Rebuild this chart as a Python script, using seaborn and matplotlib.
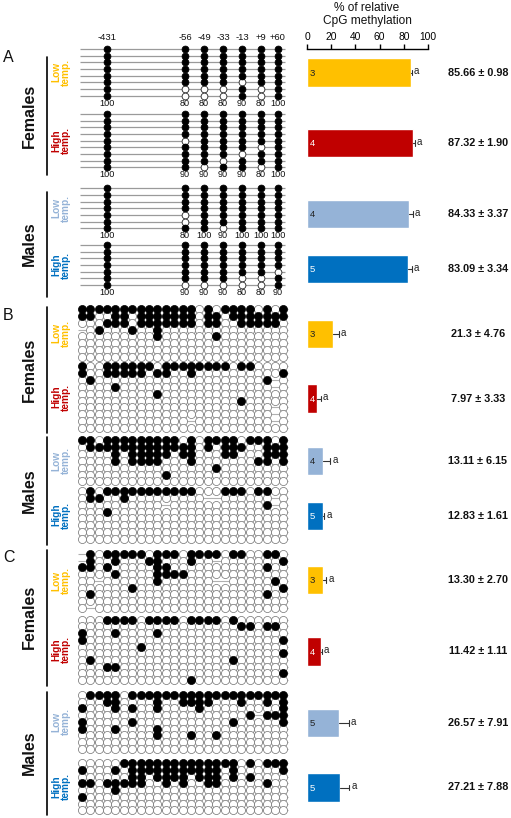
import matplotlib
matplotlib.use("Agg")
import matplotlib.pyplot as plt
import numpy as np
import pandas as pd
import seaborn as sns

sns.set_style("white")
plt.rcParams["font.family"] = ["Liberation Sans", "DejaVu Sans"]
plt.rcParams["text.color"] = "#111111"

# ------------------------------------------------------------------ data
sexes = ["Females", "Males"]
temps = ["Low\ntemp.", "High\ntemp.", "Low\ntemp.", "High\ntemp."]
group_colors = ["#FFC000", "#C00000", "#95B3D7", "#0070C0"]
number_colors = ["#222222", "#ffffff", "#222222", "#ffffff"]

# Panel A: 7 CpG sites, '1' = methylated, '0' = unmethylated
cpg_A = ["-431", "-56", "-49", "-33", "-13", "+9", "+60"]
A_fem_low = ["1111111", "1111111", "1111111", "1111111", "1111111",
             "1111011", "1000101", "1000101"]
A_fem_high = ["1111111", "1111111", "1111111", "1111111", "1011111",
              "1111101", "1111011", "1110111", "1101101"]
A_male_low = ["1111111", "1111111", "1111111", "1111111", "1011111",
              "1011111", "1110111"]
A_male_high = ["1111111", "1111111", "1111111", "1111111", "1111110",
               "1111001", "1000001"]
A_pct_fem_low = ["100", "80", "80", "80", "90", "80", "100"]
A_pct_fem_high = ["100", "90", "90", "90", "90", "80", "100"]
A_pct_male_low = ["100", "80", "100", "90", "100", "100", "100"]
A_pct_male_high = ["100", "90", "90", "90", "80", "80", "90"]

# Panel B: 25 CpG sites ('-' = not determined)
B_fem_low = ["1111111111111101011110101",
             "1100110111111101101111111",
             "0001110111111101100111110",
             "-010001001000000000000000",
             "0000000001000000100000000",
             "0000000000000000000000000",
             "0000000000000000000000000",
             "0000000000000000000000000"]
B_fem_high = ["1001111110111111110110000",
              "1001111101100100000000001",
              "01000000000000000000001-0",
              "00001000000000000000000-0",
              "0000000001000000000000000",
              "0000000000000000000100000",
              "00000000000000000000000-0",
              "00000000000000000000000-0",
              "0000000000000-000000000-0",
              "0000000000000000000000000"]
B_male_low = ["1101111111110101111011101",
              "0111111111111101011100111",
              "0000101111101100011000111",
              "0000101111000100000001101",
              "0000000000000000100000000",
              "0000000000100000000000000",
              "0000000000000000000000000"]
B_male_high = ["0101111111111100011101100",
               "011001000000000--000000-0",
               "0000000000-000000000001-0",
               "0001000000000000000000000",
               "0000000000000000000000000",
               "0000000000000000000000000",
               "0000000000000000000000000",
               "0000000000000000000000000"]

# Panel C: 25 CpG sites
C_fem_low = ["-101111101110111101100110",
             "-100100011000100-00000001",
             "1101000001100000000000100",
             "0000100001111000000000000",
             "00-0000001000000--0000010",
             "0000001000000000000000001",
             "0100000000000000000000100",
             "0000000000000000000000000",
             "0-00000000000000000000000"]
C_fem_high = ["0001111011110111101000000",
              "0000000000000000000110110",
              "1000100001000000000000000",
              "1000000000000000000000001",
              "0000000100000000000000000",
              "0000000000000000000000001",
              "0100000000000000001000000",
              "0001100000000000000000000",
              "0000000000000000000000001",
              "0000000000000100000000000"]
C_male_low = ["0111101111111111111111111",
              "0001100001001111000100101",
              "1000101001000010000000001",
              "000000000000000000001-111",
              "1000001000000000001000001",
              "1000100001000000000000000",
              "0000000001000100100000000",
              "0000000000000000000000000",
              "0000000000000000000000000"]
C_male_high = ["0000011111111111111010111",
               "1000101111111111101000001",
               "0000001101111011101010000",
               "1101111100101001100000100",
               "0000100000000000000000000",
               "1000000000000000000000000",
               "0000000000000000000000000",
               "0000000000000000000000000"]

# Bars: mean % relative CpG methylation and s.e.m., n per group
A_mean = ["85.66", "87.32", "84.33", "83.09"]
A_sem = ["0.98", "1.90", "3.37", "3.34"]
A_n = ["3", "4", "4", "5"]
B_mean = ["21.3", "7.97", "13.11", "12.83"]
B_sem = ["4.76", "3.33", "6.15", "1.61"]
B_n = ["3", "4", "4", "5"]
C_mean = ["13.30", "11.42", "26.57", "27.21"]
C_sem = ["2.70", "1.11", "7.91", "7.88"]
C_n = ["3", "4", "5", "5"]
sig_letters = ["a", "a", "a", "a"]
axis_ticks = [0, 20, 40, 60, 80, 100]

# ------------------------------------------------------------------ layout
W, H = 511, 818
fig = plt.figure(figsize=(W / 100, H / 100), dpi=100)
ax = fig.add_axes([0, 0, 1, 1])

A_col_x = [107, 185, 204, 223, 242, 261, 278]
BC_col_x = [81.7 + 8.4 * k for k in range(25)]

panels = [
    dict(letter="A", letter_y=57, groups=[A_fem_low, A_fem_high, A_male_low, A_male_high],
         y0=[49, 114, 188.3, 245], dy=6.67, xs=A_col_x, small=True,
         sexbar=[(57, 175), (192, 297)], sexy=[116, 244],
         bar_y=[72.5, 143, 214, 269], mean=A_mean, sem=A_sem, n=A_n),
    dict(letter="B", letter_y=316, groups=[B_fem_low, B_fem_high, B_male_low, B_male_high],
         y0=[309, 366.3, 440.3, 491], dy=6.86, xs=BC_col_x, small=False,
         sexbar=[(307, 433), (437, 545)], sexy=[370, 491],
         bar_y=[334, 398.5, 461, 516], mean=B_mean, sem=B_sem, n=B_n),
    dict(letter="C", letter_y=558, groups=[C_fem_low, C_fem_high, C_male_low, C_male_high],
         y0=[554, 619.7, 695, 763.3], dy=6.7, xs=BC_col_x, small=False,
         sexbar=[(550, 686), (692, 815)], sexy=[617, 753],
         bar_y=[580, 651.5, 723, 787.5], mean=C_mean, sem=C_sem, n=C_n),
]
A_pcts = [A_pct_fem_low, A_pct_fem_high, A_pct_male_low, A_pct_male_high]


def to_frame(patterns, xs, y0, dy):
    rec = []
    for i, row in enumerate(patterns):
        for j, c in enumerate(row):
            rec.append((xs[j], y0 + i * dy, c))
    return pd.DataFrame(rec, columns=["x", "y", "state"])


for P in panels:
    ax.text(3, P["letter_y"], P["letter"], fontsize=11.5, ha="left", va="center")
    for k, sx_ in enumerate(sexes):
        y1, y2 = P["sexbar"][k]
        ax.plot([47, 47], [y1, y2], color="black", lw=1.2)
        ax.text(29, P["sexy"][k], sx_, rotation=90, fontsize=11.5, fontweight="bold",
                ha="center", va="center")
    for g, pat in enumerate(P["groups"]):
        y0, dy = P["y0"][g], P["dy"]
        df = to_frame(pat, P["xs"], y0, dy)
        ys = [y0 + i * dy for i in range(len(pat))]
        if P["small"]:
            ax.hlines(ys, 80, 285, color="#9a9a9a", lw=0.9, zorder=1)
            s, lw_e, ec_open = 24, 0.6, "#222222"
        else:
            ax.hlines(ys, 77.5, 287.5, color="#b0b0b0", lw=0.8, zorder=1)
            s, lw_e, ec_open = 34, 0.5, "#707070"
        full = df[df.state == "1"]
        empty = df[df.state == "0"]
        sns.scatterplot(data=empty, x="x", y="y", ax=ax, s=s, color="white",
                        edgecolor=ec_open, linewidth=lw_e, legend=False, zorder=3)
        sns.scatterplot(data=full, x="x", y="y", ax=ax, s=s, color="black",
                        edgecolor="black", linewidth=lw_e, legend=False, zorder=4)
        # temperature label
        yc = y0 + dy * (len(pat) - 1) / 2
        ax.text(61, yc, temps[g], rotation=90, fontsize=7.3, color=group_colors[g],
                ha="center", va="center", linespacing=1.0, fontweight="bold")
        if P["small"]:
            for j, t in enumerate(A_pcts[g]):
                ax.text(P["xs"][j], ys[-1] + 7.6, t, fontsize=6.6, ha="center",
                        va="center")
        # bar
        m = float(P["mean"][g]); e = float(P["sem"][g])
        ybc = P["bar_y"][g]
        bh = 28.5
        bx = fig.add_axes([307 / W, 1 - (ybc + bh / 2) / H, 121 / W, bh / H])
        sns.barplot(x=[m], y=[0], orient="h", color=group_colors[g], width=1,
                    saturation=1, errorbar=None, ax=bx)
        bx.set_xlim(0, 100)
        bx.set_ylim(0.5, -0.5)
        bx.axis("off")
        bx.plot([m, m + e], [0, 0], color="#333333", lw=0.8, clip_on=False)
        bx.plot([m + e, m + e], [-0.09, 0.09], color="#333333", lw=0.8, clip_on=False)
        bx.text(m + e + 1.6, -0.05, sig_letters[g], fontsize=7, ha="left", va="center",
                color="#222222", clip_on=False)
        bx.text(2.4, 0.02, P["n"][g], fontsize=6.8, ha="left", va="center",
                color=number_colors[g])
        ax.text(478, ybc, f"{P['mean'][g]} \u00b1 {P['sem'][g]}", fontsize=7.8,
                fontweight="bold", ha="center", va="center")

for j, lab in enumerate(cpg_A):
    ax.text(A_col_x[j], 37, lab, fontsize=6.8, ha="center", va="center")

# top scale axis
sx = fig.add_axes([307 / W, 1 - 49 / H, 121 / W, 0.0001])
sx.set_xlim(0, 100)
sx.set_xticks(axis_ticks)
sx.xaxis.tick_top()
sx.set_yticks([])
for sp in ["left", "right", "bottom"]:
    sx.spines[sp].set_visible(False)
sx.spines["top"].set_color("black")
sx.spines["top"].set_linewidth(1.0)
sx.tick_params(axis="x", direction="out", length=3.5, width=1, labelsize=7.4, pad=1.5,
               colors="black")
sx.patch.set_alpha(0)
ax.text(367, 8, "% of relative", fontsize=8.6, ha="center", va="center")
ax.text(367, 21, "CpG methylation", fontsize=8.6, ha="center", va="center")

ax.set_xlim(0, W)
ax.set_ylim(H, 0)
ax.axis("off")
fig.savefig("out.png", dpi=100)
